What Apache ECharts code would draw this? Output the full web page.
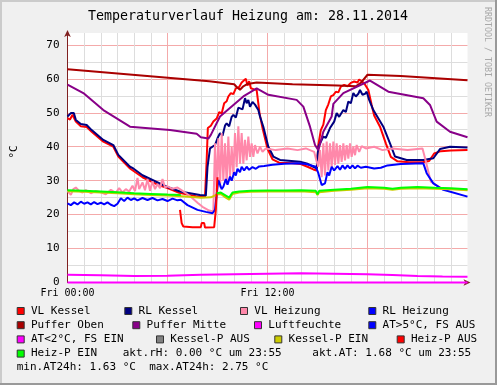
<!DOCTYPE html>
<html><head><meta charset="utf-8">
<script src="https://cdn.jsdelivr.net/npm/echarts@6/dist/echarts.min.js"></script>
<style>html,body{margin:0;padding:0;background:#f0f0f0}#c{width:497px;height:385px}</style>
</head><body><div id="c"></div>
<script>
// ---------------- data (hours of day, °C) ----------------
const chartTitle = 'Temperaturverlauf Heizung am: 28.11.2014';
const xTickLabels = {0: 'Fri 00:00', 12: 'Fri 12:00'};
const yTickLabels = [0, 10, 20, 30, 40, 50, 60, 70];
const unitLabel = '°C';
const watermark = 'RRDTOOL / TOBI OETIKER';

const vlKessel = [[0,48.4],[0.15,48.0],[0.3,49.4],[0.42,49.5],[0.5,47.4],[0.8,46.0],[1.15,45.8],[1.45,44.4],[2.15,41.5],[2.75,40.0],[3.05,37.1],[3.75,33.6],[4.5,31.0],[5.5,28.6],[6.0,27.8],[6.7,26.4],[7.7,25.4],[8.25,25.3],
 [8.35,36],[8.42,45.5],[8.6,46.2],[8.75,47.4],[8.95,48.3],[9.1,50.2],[9.25,49.8],[9.4,52.8],[9.55,53.4],[9.65,54.8],[9.8,55.8],[9.95,55.5],[10.1,57.2],[10.3,57.6],[10.45,58.9],[10.55,58.4],[10.7,60.0],[10.8,58.0],[10.9,59.3],[11.0,57.2],[11.2,56.9],[11.35,56.7],[11.45,52.8],[11.52,49.9],[11.7,45.5],[12.0,39.4],[12.3,36.3],[12.7,35.3],[13.5,35.1],[14.0,34.9],[14.4,34.1],[14.75,33.3],[14.95,33.0],
 [15.05,40.5],[15.2,44.9],[15.35,46.5],[15.5,50.8],[15.65,52.5],[15.8,54.8],[15.95,55.2],[16.1,56.2],[16.25,56.0],[16.4,57.7],[16.6,58.2],[16.8,57.8],[17.0,58.8],[17.2,59.2],[17.4,58.9],[17.5,59.8],[17.65,59.3],[17.8,58.7],[17.95,57.5],[18.05,56.7],[18.25,52.3],[18.4,49.2],[18.75,45.9],[19.1,41.0],[19.4,37.0],[19.8,35.7],[20.5,35.4],[21.3,35.4],[21.7,35.8],[22.0,38.0],[22.4,38.7],[23.0,38.9],[24,39.0]];

const rlKessel = [[0,48.9],[0.1,48.4],[0.2,49.9],[0.38,49.9],[0.5,47.9],[0.8,46.7],[1.15,46.4],[1.45,44.9],[2.15,42.0],[2.75,40.5],[3.05,37.6],[3.75,34.1],[3.95,33.6],[4.5,31.6],[5.95,28.2],[6.75,26.8],[7.95,25.8],[8.3,25.6],
 [8.4,34],[8.55,39.5],[8.85,40.5],[9.0,42.5],[9.15,44.0],[9.3,43.2],[9.45,46.2],[9.55,46.9],[9.7,46.0],[9.85,48.8],[9.95,49.4],[10.1,48.6],[10.25,51.5],[10.35,51.8],[10.5,51.0],[10.65,54.3],[10.75,52.8],[10.85,53.8],[10.95,51.8],[11.1,53.2],[11.25,52.4],[11.35,52.8],[11.45,50.8],[11.55,48.9],[11.75,45.9],[12.05,40.0],[12.35,37.1],[12.75,36.1],[13.95,35.6],[14.35,35.1],[14.75,34.1],[14.95,33.6],
 [15.05,40.0],[15.35,43.0],[15.5,42.6],[15.75,45.5],[15.85,45.9],[16.0,47.4],[16.15,49.9],[16.3,48.8],[16.55,50.8],[16.7,50.2],[16.85,53.3],[17.0,52.8],[17.15,55.8],[17.3,54.8],[17.45,55.6],[17.55,56.7],[17.7,55.3],[17.85,55.6],[17.95,56.2],[18.1,53.8],[18.35,50.8],[18.95,45.9],[19.35,41.0],[19.65,37.1],[20.35,36.1],[21.35,36.1],[21.95,36.6],[22.35,39.3],[22.95,40.0],[24,39.8]];

const vlHeizung = [[0,27.0],[0.2,25.8],[0.35,27.5],[0.5,28.0],[0.7,27.0],[0.9,26.5],[1.1,27.2],[1.4,26.3],[1.7,27.0],[2.0,26.6],[2.3,26.0],[2.6,27.3],[2.9,26.4],[3.1,27.8],[3.3,26.5],[3.5,27.5],[3.7,26.8],[3.9,28.5],[4.05,26.9],[4.2,30.8],[4.3,27.5],[4.5,29.5],[4.65,27.2],[4.8,30.5],[4.95,27.0],[5.1,29.8],[5.25,27.5],[5.4,29.0],[5.55,27.8],[5.7,30.5],[5.85,28.0],[6.0,28.3],[6.3,27.6],[6.6,28.0],[6.9,27.0],[7.2,26.0],[7.5,24.8],[7.8,23.5],[8.1,22.3],[8.5,21.2],[8.75,20.9],
 [8.85,41],[8.95,27],[9.05,42.5],[9.15,28],[9.25,44],[9.35,30],[9.45,41],[9.55,29],[9.65,43],[9.75,31],[9.85,40],[9.95,32],[10.05,44],[10.15,34],[10.25,46],[10.35,35],[10.45,44],[10.55,35],[10.65,42],[10.75,36],[10.85,43],[10.95,37],[11.05,41],[11.15,37],[11.25,40.5],[11.4,38],[11.55,40],[11.7,38.5],[11.9,39.5],[12.5,39.0],[13.2,39.5],[13.8,39.0],[14.3,39.5],[14.8,38.5],[14.95,35.6],[15.05,34.1],
 [15.15,39],[15.25,31],[15.35,41],[15.45,31.5],[15.55,41.5],[15.65,33],[15.75,41],[15.85,34],[15.95,41.5],[16.05,34.6],[16.15,41],[16.25,35],[16.35,40.5],[16.45,35.5],[16.55,41],[16.65,36],[16.75,40.5],[16.85,36.5],[16.95,41],[17.05,37],[17.15,40],[17.25,37.5],[17.35,40.5],[17.5,38.5],[17.65,40.2],[17.9,39.5],[18.4,40.0],[18.9,39.0],[19.5,39.5],[20.4,39.0],[21.3,39.5],[21.42,39.4],[21.48,36.1],[21.8,29.7],[22.4,27.8],[24,27.3]];

const rlHeizung = [[0,23.3],[0.2,22.8],[0.4,23.6],[0.6,23.0],[0.8,23.8],[1.0,23.2],[1.2,23.6],[1.4,23.0],[1.6,23.7],[1.8,23.1],[2.0,23.5],[2.2,23.0],[2.4,23.6],[2.6,22.9],[2.8,22.5],[3.0,23.2],[3.2,24.8],[3.4,24.0],[3.6,25.0],[3.8,24.3],[4.0,24.8],[4.2,24.2],[4.5,24.9],[4.8,24.3],[5.1,24.9],[5.4,24.2],[5.7,24.6],[6.0,24.0],[6.3,24.7],[6.6,24.2],[6.8,24.4],[7.2,22.8],[7.8,21.4],[8.3,20.8],[8.7,20.4],[8.85,21.4],
 [9.05,30.2],[9.25,27.5],[9.35,28.2],[9.5,30.5],[9.6,28.8],[9.75,31.2],[9.85,30],[10.0,32.5],[10.1,31.5],[10.2,33.5],[10.35,32.5],[10.45,34.1],[10.6,33.0],[10.75,34.1],[10.9,33.2],[11.1,34.0],[11.3,33.5],[11.5,34.2],[11.8,34.3],[12.3,34.7],[13.0,35.0],[13.8,35.1],[14.3,34.9],[14.9,34.1],[15.05,32.2],[15.25,28.7],[15.45,29.2],[15.6,32.5],[15.7,31.5],[15.85,34.1],[16.0,33.0],[16.2,34.3],[16.35,33.2],[16.5,34.5],[16.65,33.5],[16.8,34.5],[16.95,33.6],[17.1,34.5],[17.25,33.6],[17.4,34.4],[17.6,33.8],[17.9,34.1],[18.4,33.6],[18.8,33.8],[19.2,34.5],[20.0,34.9],[21.35,35.1],[21.55,32.2],[21.95,29.2],[22.55,27.3],[24,25.3]];

const pufferOben = [[0,62.8],[8.5,59.3],[10.0,58.4],[10.15,57.6],[10.35,56.8],[10.55,57.8],[10.8,58.5],[11.35,58.9],[13.5,58.4],[16.2,58.0],[17.3,57.8],[17.6,58.8],[18.0,61.2],[20,60.8],[24,59.6]];

const pufferMitte = [[0,58.3],[0.95,55.8],[2.15,50.8],[3.75,45.9],[6.15,44.9],[7.75,43.8],[8.0,42.8],[8.45,42.4],[8.6,43.5],[9.15,48.9],[10.55,54.8],[11.35,57.2],[12.05,55.3],[13.75,53.8],[14.15,51.8],[14.55,45.9],[14.85,40.5],[15.05,39.0],[15.35,44.4],[15.85,48.9],[15.95,52.6],[16.55,55.8],[18.15,59.5],[19.25,56.2],[21.35,54.3],[21.75,52.3],[22.15,47.4],[22.95,44.4],[24,42.8]];

const luftfeuchte = [[0,0],[24,0]];

const aussenTemp = [[0,2.3],[2,2.15],[4,1.9],[6,2.0],[8,2.25],[10,2.45],[12,2.6],[14,2.75],[16,2.6],[18,2.4],[19.5,2.2],[21,1.95],[22.5,1.75],[24,1.68]];

const kesselPEin = [[0,26.9],[1,26.7],[2,26.5],[3,26.3],[4,26.0],[5,25.8],[6,25.6],[6.8,25.4],[7.5,25.2],[8.0,25.0],[8.6,25.1],[8.95,25.9],[9.2,26.1],[9.5,25.0],[9.7,24.4],[9.9,26.1],[10.3,26.5],[11,26.7],[12,26.8],[13,26.8],[14,26.9],[14.9,26.6],[15.0,25.8],[15.1,26.6],[16,27.0],[17,27.3],[18,27.8],[19,27.6],[19.5,27.3],[20,27.6],[21,27.8],[22,27.6],[23,27.5],[24,27.2]];

const heizPEin = [[0,27.2],[1,27.0],[2,26.8],[3,26.6],[4,26.3],[5,26.1],[6,25.9],[6.8,25.8],[6.9,null],[8.95,26.3],[9.2,26.5],[9.5,25.6],[9.7,25.0],[9.9,26.5],[10.3,26.8],[11,27.0],[12,27.1],[13,27.1],[14,27.2],[14.9,27.0],[15.0,26.0],[15.1,27.0],[16,27.3],[17,27.6],[18,28.1],[19,27.9],[19.5,27.6],[20,27.9],[21,28.1],[22,27.9],[23,27.8],[24,27.5]];

const heizPAus = [[6.75,21.4],[6.85,17.5],[6.95,16.5],[7.5,16.3],[8.0,16.3],[8.05,17.5],[8.2,17.5],[8.25,16.2],[8.8,16.3],[8.9,21.4],[9.0,31.0]];

const legendRows = [
  [['VL Kessel','#ff0000'],['RL Kessel','#000080'],['VL Heizung','#ff88aa'],['RL Heizung','#0000ff']],
  [['Puffer Oben','#aa0000'],['Puffer Mitte','#880088'],['Luftfeuchte','#ff00ff'],['AT>5°C, FS AUS','#0000ff']],
  [['AT<2°C, FS EIN','#ff00ff'],['Kessel-P AUS','#808080'],['Kessel-P EIN','#cccc00'],['Heiz-P AUS','#ff0000']],
  [['Heiz-P EIN','#00ff00']]
];
const legendTexts = [
  'akt.rH: 0.00 °C um 23:55',
  'akt.AT: 1.68 °C um 23:55',
  'min.AT24h: 1.63 °C  max.AT24h: 2.75 °C'
];

// ---------------- layout / style ----------------
const FONT = '"DejaVu Sans Mono", monospace';
const legendBoxX = [[16.7,124.3,240,368.3],[16.7,132.3,254,368.3],[16.7,156,274.3,396.7],[16.7]];
const legendRowY = [311, 325.2, 339.4, 353.6, 367.6];
const legendTextPos = [[122.7, 353.6],[312.3, 353.6],[16.7, 367.6]];

const chart = echarts.init(document.getElementById('c'), null, {renderer: 'canvas'});

function line(name, data, color, z) {
  return {name, type: 'line', data, showSymbol: false, symbol: 'none', z: z || 2,
    lineStyle: {color, width: 2}, itemStyle: {color}, animation: false, connectNulls: false};
}

const graphics = [];
graphics.push({type:'rect', shape:{x:0,y:0,width:497,height:2}, style:{fill:'#cbcbcb'}, silent:true});
graphics.push({type:'rect', shape:{x:0,y:0,width:2,height:385}, style:{fill:'#cbcbcb'}, silent:true});
graphics.push({type:'rect', shape:{x:495,y:0,width:2,height:385}, style:{fill:'#999'}, silent:true});
graphics.push({type:'rect', shape:{x:0,y:383,width:497,height:2}, style:{fill:'#999'}, silent:true});
graphics.push({type:'text', x:248, y:17, style:{text:chartTitle, font:'13.3px '+FONT, fill:'#000', textAlign:'center', textVerticalAlign:'middle'}});
graphics.push({type:'text', x:14, y:152, rotation:Math.PI/2, style:{text:unitLabel, font:'11px '+FONT, fill:'#000', textAlign:'center', textVerticalAlign:'middle'}});
graphics.push({type:'text', x:487, y:7, rotation:-Math.PI/2, style:{text:watermark, font:'8.3px '+FONT, fill:'#a8a8a8', textAlign:'left', textVerticalAlign:'middle'}});
legendRows.forEach((row, r) => {
  row.forEach((item, i) => {
    const bx = legendBoxX[r][i], cy = legendRowY[r];
    graphics.push({type:'rect', shape:{x:bx+0.5, y:cy-3.5, width:7, height:7}, style:{fill:item[1], stroke:'#333', lineWidth:1}});
    graphics.push({type:'text', x:bx+14.3, y:cy, style:{text:item[0], font:'11px '+FONT, fill:'#000', textAlign:'left', textVerticalAlign:'middle'}});
  });
});
legendTexts.forEach((t, i) => {
  graphics.push({type:'text', x:legendTextPos[i][0], y:legendTextPos[i][1], style:{text:t, font:'11px '+FONT, fill:'#000', textAlign:'left', textVerticalAlign:'middle'}});
});

const MAJ = '#f4aaaa', MIN = '#dddddd', AXIS = '#802020';

chart.setOption({
  animation: false,
  backgroundColor: '#f0f0f0',
  grid: {left: 67.5, top: 33, width: 400, height: 249.5, show: true, backgroundColor: '#ffffff', borderWidth: 0},
  xAxis: {
    type: 'value', min: 0, max: 24, interval: 1,
    axisLine: {show: true, lineStyle: {color: AXIS, width: 1}, symbol: ['none','arrow'], symbolSize: [5,7], symbolOffset: [0,3]},
    axisTick: {show: false},
    axisLabel: {formatter: v => xTickLabels[v] || '', fontFamily: FONT, fontSize: 10, color: '#000', margin: 6},
    splitLine: {show: true, showMaxLine: false, lineStyle: {color: [MAJ, MIN, MIN, MIN, MIN, MIN], width: 1}}
  },
  yAxis: {
    type: 'value', min: 0, max: 73.5, interval: 5,
    axisLine: {show: true, lineStyle: {color: AXIS, width: 1}, symbol: ['none','arrow'], symbolSize: [5,7], symbolOffset: [0,3]},
    axisTick: {show: false},
    axisLabel: {formatter: v => (yTickLabels.indexOf(v) >= 0 ? String(v) : ''), fontFamily: FONT, fontSize: 11, color: '#000', margin: 8},
    splitLine: {show: true, showMaxLine: false, lineStyle: {color: [MAJ, MIN], width: 1}}
  },
  series: [
    line('VL Kessel', vlKessel, '#ff0000', 2),
    line('RL Kessel', rlKessel, '#000080', 3),
    line('VL Heizung', vlHeizung, '#ff88aa', 4),
    line('RL Heizung', rlHeizung, '#0000ff', 5),
    line('Puffer Oben', pufferOben, '#aa0000', 6),
    line('Puffer Mitte', pufferMitte, '#880088', 7),
    Object.assign(line('Luftfeuchte', luftfeuchte, '#ff00ff', 8), {clip: false}),
    line('AT<2°C, FS EIN', aussenTemp, '#ff00ff', 9),
    line('Kessel-P EIN', kesselPEin, '#cccc00', 10),
    line('Heiz-P AUS', heizPAus, '#ff0000', 11),
    line('Heiz-P EIN', heizPEin, '#00ff00', 12)
  ],
  graphic: graphics
});
</script></body></html>
